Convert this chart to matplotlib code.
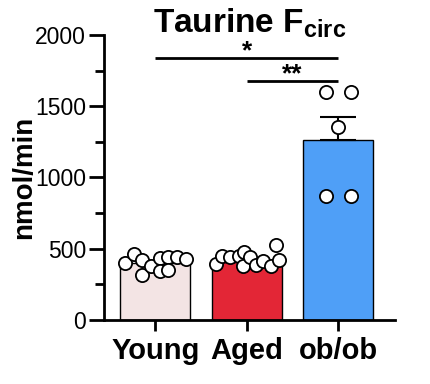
import matplotlib
matplotlib.use("Agg")
import matplotlib.pyplot as plt
import numpy as np
from matplotlib.ticker import MultipleLocator

# ---- data ----
groups = ["Young", "Aged", "ob/ob"]
bar_means = [400, 410, 1260]
bar_sems = [13, 12, 165]
young_pts = [402, 463, 419, 319, 380, 433, 342, 444, 348, 444, 426]
young_dx = [-0.33, -0.23, -0.14, -0.14, -0.05, 0.05, 0.05, 0.14, 0.14, 0.24, 0.335]
aged_pts = [396, 446, 444, 446, 377, 479, 439, 388, 412, 377, 421, 526]
aged_dx = [-0.34, -0.27, -0.18, -0.09, -0.04, -0.03, 0.04, 0.10, 0.18, 0.27, 0.35, 0.32]
obob_pts = [1602, 1602, 1352, 872, 872]
obob_dx = [-0.135, 0.135, 0.0, -0.135, 0.135]
bar_colors = ["#F3E4E4", "#E32636", "#4F9FF7"]
yticks = [0, 500, 1000, 1500, 2000]
sig_pairs = [(0, 2, 1838, "*"), (1, 2, 1677, "**")]

plt.rcParams['font.family'] = ['Liberation Sans', 'DejaVu Sans']
plt.rcParams['mathtext.fontset'] = 'custom'
plt.rcParams['mathtext.bf'] = 'Liberation Sans:bold'
plt.rcParams['mathtext.rm'] = 'Liberation Sans'
plt.rcParams['mathtext.it'] = 'Liberation Sans:italic'

fig = plt.figure(figsize=(4.31, 3.84), dpi=100)
ax = fig.add_axes([104/431, 1-320/384, 291/431, 285/384])

x = np.arange(len(groups))
ax.bar(x, bar_means, width=0.77, color=bar_colors, edgecolor="black", linewidth=1.0, zorder=2)
ax.errorbar(x, bar_means, yerr=[[0]*3, bar_sems], fmt="none", ecolor="black",
            elinewidth=1.5, capsize=13, capthick=1.5, zorder=3)

for i, (pts, dx) in enumerate([(young_pts, young_dx), (aged_pts, aged_dx), (obob_pts, obob_dx)]):
    ax.plot(np.array(dx) + i, pts, "o", ms=9.5, mfc="white", mec="black", mew=1.3,
            zorder=4, linestyle="none")

for a, b, yv, s in sig_pairs:
    ax.plot([a, b], [yv, yv], color="black", lw=2.0, solid_capstyle="butt", clip_on=False)
    ax.text((a + b) / 2, yv, s, ha="center", va="baseline", fontsize=19,
            fontweight="bold")

ax.set_xlim(-0.56, 2.62)
ax.set_ylim(0, 2000)
ax.set_yticks(yticks)
ax.yaxis.set_minor_locator(MultipleLocator(250))
ax.set_xticks(x)
ax.set_xticklabels(groups, fontsize=21, fontweight="bold")
ax.tick_params(axis="y", which="major", labelsize=16.5, length=11, width=2, pad=2)
ax.tick_params(axis="y", which="minor", length=6.5, width=2)
ax.tick_params(axis="x", which="major", length=8, width=2, pad=4)
for sp in ["top", "right"]:
    ax.spines[sp].set_visible(False)
for sp in ["left", "bottom"]:
    ax.spines[sp].set_linewidth(2)

ax.set_ylabel("nmol/min", fontsize=20, fontweight="bold")
ax.yaxis.set_label_coords(-67/291, 0.5)

fig.text(250/431, 1-33/384, r"$\mathbf{Taurine\ F_{circ}}$", ha="center", va="baseline",
         fontsize=24)

fig.savefig("out.png", dpi=100)
